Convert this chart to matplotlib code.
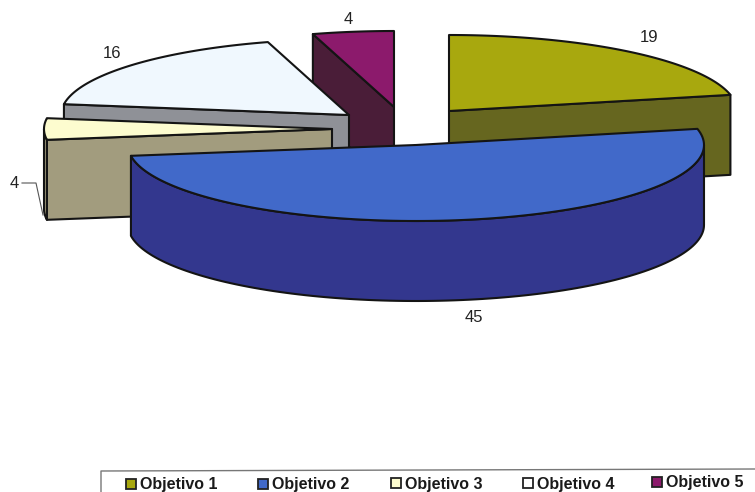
import numpy as np
import matplotlib
matplotlib.use("Agg")
import matplotlib.pyplot as plt
from matplotlib.patches import Polygon, Rectangle

categories = ["Objetivo 1", "Objetivo 2", "Objetivo 3", "Objetivo 4", "Objetivo 5"]
values = [19, 45, 4, 16, 4]

top_colors = ["#a8a80e", "#4169c9", "#fdfccf", "#f0f8fe", "#8c1a6c"]
side_colors = ["#66661f", "#33378e", "#a29c7e", "#8f9197", "#4a1d38"]
legend_colors = ["#a8a80e", "#4169c9", "#fdfccf", "#ffffff", "#8c1a6c"]

# layout (pixels in the 755x492 canvas)
W, H = 755, 492
RX, RY, DEPTH = 288, 76, 80
apex = [(449, 111), (416, 145), (332, 129), (349, 115), (394, 107)]
draw_order = [4, 3, 2, 0, 1]
label_pos = [(649, 37), (474, 317), (348, 19), (112, 54), (14, 184)]
label_idx = [0, 1, 4, 3, 2]
legend_sq_x = [126, 258, 391, 523, 652]
legend_y = [485, 485, 484, 484, 483]

fig = plt.figure(figsize=(W / 100, H / 100), dpi=100)
ax = fig.add_axes([0, 0, 1, 1])
ax.set_xlim(0, W)
ax.set_ylim(H, 0)
ax.axis("off")

edges = np.cumsum([0] + values) / sum(values) * 360.0
LINE = "#141414"
LW = 1.5


def rim(c, a0, a1, n=120):
    t = np.radians(np.linspace(a0, a1, n))
    return np.column_stack([c[0] + RX * np.sin(t), c[1] - RY * np.cos(t)])


def poly(pts, color, z):
    ax.add_patch(Polygon(pts, closed=True, facecolor=color, edgecolor=LINE,
                         linewidth=LW, joinstyle="round", zorder=z))


z = 1
for i in draw_order:
    a0, a1 = edges[i], edges[i + 1]
    c = np.array(apex[i], dtype=float)
    drop = np.array([0, DEPTH])
    # flat cut faces turned towards the viewer
    for a, visible in ((a0, np.sin(np.radians(a0)) < -1e-9),
                       (a1, np.sin(np.radians(a1)) > 1e-9)):
        if visible:
            p = rim(c, a, a, 1)[0]
            poly([c, p, p + drop, c + drop], side_colors[i], z)
            z += 1
    # outer wall on the front half
    lo, hi = max(a0, 90), min(a1, 270)
    if hi > lo:
        arc = rim(c, lo, hi)
        poly(np.vstack([arc, arc[::-1] + drop]), side_colors[i], z)
        z += 1
    # top surface
    poly(np.vstack([[c], rim(c, a0, a1)]), top_colors[i], z)
    z += 1

# data labels
for (x, y), i in zip(label_pos, label_idx):
    ax.text(x, y, str(values[i]), ha="center", va="center", fontsize=12,
            family="Liberation Sans", color="#222222", zorder=50)
ax.plot([22, 36, 43], [183, 183, 215], color="#555555", lw=0.8, zorder=50)

# legend
ax.plot([101, 101, W], [H, 471, 469], color="#777777", lw=1.0, zorder=50)
for name, col, x, y in zip(categories, legend_colors, legend_sq_x, legend_y):
    ax.add_patch(Rectangle((x, y - 6), 10, 10, facecolor=col, edgecolor="#222222",
                           linewidth=1.3, zorder=50))
    ax.text(x + 14, y, name, ha="left", va="center", fontsize=11.5, fontweight="bold",
            family="Liberation Sans", color="#1a1a1a", zorder=50)

fig.savefig("out.png", dpi=100, facecolor="white")
